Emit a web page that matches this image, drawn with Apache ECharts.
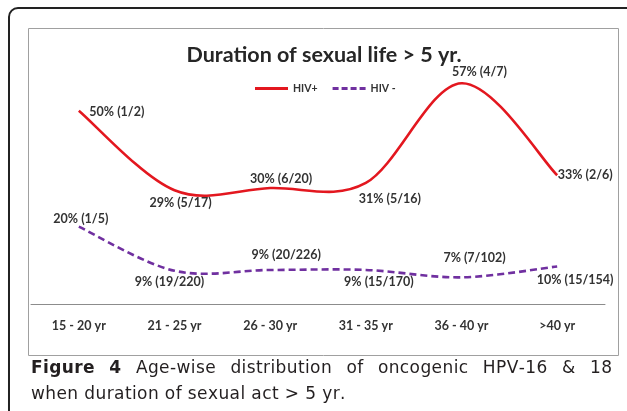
<!DOCTYPE html>
<html>
<head>
<meta charset="utf-8">
<script src="https://cdn.jsdelivr.net/npm/echarts@6/dist/echarts.min.js"></script>
<style>
html, body { margin: 0; padding: 0; background: #fff; }
#main { width: 627px; height: 411px; }
</style>
</head>
<body>
<div id="main"></div>
<script>
var categories = ['15 - 20 yr', '21 - 25 yr', '26 - 30 yr', '31 - 35 yr', '36 - 40 yr', '>40 yr'];
var hivPos = [50, 29.4, 30, 31.3, 57.1, 33.3];
var hivPosLabels = ['50% (1/2)', '29% (5/17)', '30% (6/20)', '31% (5/16)', '57% (4/7)', '33% (2/6)'];
var hivNeg = [20, 8.6, 8.8, 8.8, 6.9, 9.7];
var hivNegLabels = ['20% (1/5)', '9% (19/220)', '9% (20/226)', '9% (15/170)', '7% (7/102)', '10% (15/154)'];

// where each label sits relative to its point (label centre - point)
var posOffsets = [[38, 1], [6, 13], [11, -9], [24, 16], [18, -11], [28, 0]];
var negOffsets = [[2, -8], [-5, 11], [16, -15], [13, 12], [13, -19], [18, 13]];

var captionLine1 = [['Figure', true], ['4', true], ['Age-wise', false], ['distribution', false], ['of', false],
    ['oncogenic', false], ['HPV-16', false], ['&', false], ['18', false]];
var captionLine2 = 'when duration of sexual act > 5 yr.';

var labelFont = 'Lato';
var RED = '#e3171f', PURPLE = '#7030a0';
var chart = echarts.init(document.getElementById('main'));

// excel-like smoothed line (catmull-rom), drawn through the axis scales
function curveItem(values, labels, offsets, color, dash) {
    return function (params, api) {
        var i = params.dataIndex;
        var children = [];
        if (i === 0) {
            var pts = [];
            for (var k = 0; k < values.length; k++) {
                pts.push(api.coord([k, values[k]]));
            }
            var d = 'M' + pts[0][0] + ' ' + pts[0][1];
            for (k = 0; k < pts.length - 1; k++) {
                var p0 = pts[Math.max(k - 1, 0)], p1 = pts[k], p2 = pts[k + 1], p3 = pts[Math.min(k + 2, pts.length - 1)];
                var c1x = p1[0] + (p2[0] - p0[0]) / 6, c1y = p1[1] + (p2[1] - p0[1]) / 6;
                var c2x = p2[0] - (p3[0] - p1[0]) / 6, c2y = p2[1] - (p3[1] - p1[1]) / 6;
                d += ' C' + c1x + ' ' + c1y + ' ' + c2x + ' ' + c2y + ' ' + p2[0] + ' ' + p2[1];
            }
            children.push({
                type: 'path',
                shape: {pathData: d},
                style: {fill: null, stroke: color, lineWidth: 2.6, lineDash: dash, lineCap: 'butt'}
            });
        }
        var pt = api.coord([api.value(0), api.value(1)]);
        children.push({
            type: 'text',
            style: {
                text: labels[i], x: pt[0] + offsets[i][0], y: pt[1] + offsets[i][1],
                align: 'center', verticalAlign: 'middle',
                font: 'bold 12.5px ' + labelFont, fill: '#333'
            },
            z2: 10
        });
        return {type: 'group', children: children};
    };
}

function seriesData(values) {
    var out = [];
    for (var i = 0; i < values.length; i++) out.push([i, values[i]]);
    return out;
}

// caption text with a bit of tracking, one element per character
var ctx = document.createElement('canvas').getContext('2d');
var capSize = 17, capFam = '"DejaVu Sans", sans-serif', capTrack = 0.4;

function capFont(bold) {
    return (bold ? 'bold ' : '') + capSize + 'px ' + capFam;
}

function spacedWidth(str, bold) {
    ctx.font = capFont(bold);
    var w = 0;
    for (var i = 0; i < str.length; i++) w += ctx.measureText(str[i]).width + (i ? capTrack : 0);
    return w;
}

function spacedText(els, str, x, y, bold) {
    ctx.font = capFont(bold);
    for (var i = 0; i < str.length; i++) {
        if (str[i] !== ' ') {
            els.push({type: 'text', style: {text: str[i], x: x, y: y, font: capFont(bold),
                fill: '#231f20', verticalAlign: 'middle'}});
        }
        x += ctx.measureText(str[i]).width + capTrack;
    }
}

function captionGraphics() {
    var els = [];
    var left = 31, right = 612;
    var widths = [], total = 0;
    for (var i = 0; i < captionLine1.length; i++) {
        var w = spacedWidth(captionLine1[i][0], captionLine1[i][1]);
        widths.push(w);
        total += w;
    }
    var gap = (right - left - total) / (captionLine1.length - 1);
    var x = left;
    for (i = 0; i < captionLine1.length; i++) {
        spacedText(els, captionLine1[i][0], x, 369, captionLine1[i][1]);
        x += widths[i] + gap;
    }
    spacedText(els, captionLine2, left, 395, false);
    return els;
}

var option = {
    animation: false,
    title: {
        text: 'Duration of sexual life > 5 yr.',
        left: 319,
        textAlign: 'center',
        top: 39,
        textStyle: {fontFamily: labelFont, fontWeight: 'bold', fontSize: 21.5, color: '#262626'}
    },
    legend: {
        left: 250,
        top: 78,
        itemWidth: 33,
        itemHeight: 3,
        itemGap: 15,
        data: [
            {name: 'HIV+', icon: 'path://M0 0H33V3H0Z'},
            {name: 'HIV -', icon: 'path://M0 0H6V3H0Z M9 0H15V3H9Z M18 0H24V3H18Z M27 0H33V3H27Z'}
        ],
        textStyle: {fontFamily: labelFont, fontWeight: 'bold', fontSize: 10.5, color: '#333'}
    },
    grid: {left: 31, right: 22, top: 72, bottom: 107},
    xAxis: {
        type: 'category',
        data: categories,
        boundaryGap: true,
        axisLine: {lineStyle: {color: '#8c8c8c', width: 1}},
        axisTick: {show: false},
        axisLabel: {margin: 15, fontFamily: labelFont, fontWeight: 'bold', fontSize: 12.5, color: '#333'}
    },
    yAxis: {type: 'value', min: 0, max: 60, show: false, splitLine: {show: false}},
    graphic: [
        {type: 'rect', shape: {x: 9, y: 8, width: 700, height: 500, r: 9},
            style: {fill: 'none', stroke: '#222', lineWidth: 2}},
        {type: 'rect', shape: {x: 28.5, y: 28.5, width: 590, height: 327},
            style: {fill: 'none', stroke: '#a0a0a0', lineWidth: 1}}
    ].concat(captionGraphics()),
    series: [{
        name: 'HIV+',
        type: 'custom',
        itemStyle: {color: RED},
        renderItem: curveItem(hivPos, hivPosLabels, posOffsets, RED, null),
        data: seriesData(hivPos)
    }, {
        name: 'HIV -',
        type: 'custom',
        itemStyle: {color: PURPLE},
        renderItem: curveItem(hivNeg, hivNegLabels, negOffsets, PURPLE, [7, 4]),
        data: seriesData(hivNeg)
    }]
};
chart.setOption(option);
</script>
</body>
</html>
